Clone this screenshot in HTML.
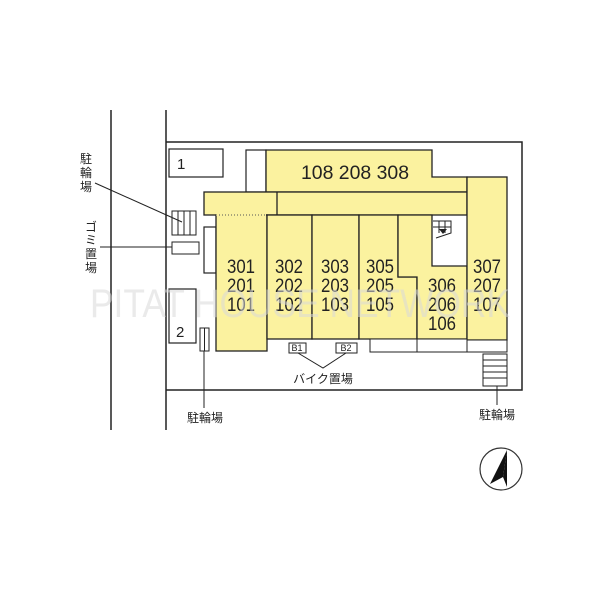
<!DOCTYPE html>
<html><head><meta charset="utf-8"><style>html,body{margin:0;padding:0;background:#fff}svg{display:block}</style></head>
<body>
<svg width="600" height="600" viewBox="0 0 600 600" xmlns="http://www.w3.org/2000/svg" font-family="Liberation Sans, Noto Sans CJK JP, sans-serif">
<g stroke="#222" stroke-width="1.5" fill="none">
<line x1="111" y1="110" x2="111" y2="430"/>
<line x1="166" y1="110" x2="166" y2="430"/>
<polyline points="166,142 522,142 522,390 166,390"/>
</g>
<g stroke="#222" stroke-width="1.2" fill="#fff">
<rect x="169" y="149" width="54" height="28"/>
<rect x="169" y="289" width="27" height="54"/>
<rect x="246" y="150" width="20" height="42"/>
<rect x="204" y="227" width="12" height="46"/>
</g>
<g stroke="#222" stroke-width="1.3" fill="#fbf29f">
<polygon points="266,150 432,150 432,177 467,177 467,192 266,192"/>
<rect x="204" y="192" width="263" height="23"/>
<line x1="277" y1="192" x2="277" y2="215"/>
<rect x="216" y="215" width="51" height="136"/>
<rect x="267" y="215" width="45" height="124"/>
<rect x="312" y="215" width="47" height="124"/>
<polygon points="359,215 398,215 398,277 417,277 417,339 359,339"/>
<polygon points="398,215 432,215 432,266 467,266 467,339 417,339 417,277 398,277"/>
<rect x="467" y="177" width="40" height="163"/>
</g>
<line x1="216" y1="215" x2="266" y2="215" stroke="#fbf29f" stroke-width="2"/>
<line x1="216" y1="215" x2="266" y2="215" stroke="#555" stroke-width="1" stroke-dasharray="1,2"/>
<g stroke="#222" stroke-width="1" fill="#fff">
<rect x="370" y="339" width="47" height="13"/>
<rect x="417" y="339" width="50" height="13"/>
<rect x="467" y="340" width="40" height="12"/>
<rect x="289" y="343" width="17" height="10"/>
<rect x="336" y="343" width="21" height="10"/>
</g>
<g stroke="#222" stroke-width="1" fill="none">
<path d="M433,221 H451 V233 L436,238 M433,227 H451 M439,221 V233 M445,221 V233"/>
</g>
<polygon points="439,229 447,229 443,234" fill="#222"/>
<g stroke="#222" stroke-width="1" fill="#fff">
<rect x="483" y="354" width="24" height="32"/>
<path d="M483,360H507M483,366H507M483,372H507M483,378H507" fill="none"/>
<rect x="172" y="211" width="24" height="24"/>
<path d="M178,211V235M184,211V235M190,211V235" fill="none"/>
<rect x="172" y="242" width="27" height="12"/>
<rect x="200" y="328" width="9" height="23"/>
<path d="M204.5,328V351" fill="none"/>
</g>
<g stroke="#222" stroke-width="1" fill="none">
<line x1="95" y1="183" x2="182" y2="222"/>
<line x1="100" y1="247" x2="172" y2="247"/>
<line x1="204" y1="351" x2="204" y2="408"/>
<line x1="497" y1="386" x2="497" y2="405"/>
<polyline points="298,353 323,368 346,353"/>
</g>
<g font-size="19" fill="#222" text-anchor="middle" lengthAdjust="spacingAndGlyphs">
<text x="355" y="179" textLength="108" lengthAdjust="spacingAndGlyphs">108  208  308</text>
<text x="241" y="273" textLength="28" lengthAdjust="spacingAndGlyphs">301</text><text x="241" y="292" textLength="28" lengthAdjust="spacingAndGlyphs">201</text><text x="241" y="311" textLength="28" lengthAdjust="spacingAndGlyphs">101</text>
<text x="289" y="273" textLength="28" lengthAdjust="spacingAndGlyphs">302</text><text x="289" y="292" textLength="28" lengthAdjust="spacingAndGlyphs">202</text><text x="289" y="311" textLength="28" lengthAdjust="spacingAndGlyphs">102</text>
<text x="335" y="273" textLength="28" lengthAdjust="spacingAndGlyphs">303</text><text x="335" y="292" textLength="28" lengthAdjust="spacingAndGlyphs">203</text><text x="335" y="311" textLength="28" lengthAdjust="spacingAndGlyphs">103</text>
<text x="380" y="273" textLength="28" lengthAdjust="spacingAndGlyphs">305</text><text x="380" y="292" textLength="28" lengthAdjust="spacingAndGlyphs">205</text><text x="380" y="311" textLength="28" lengthAdjust="spacingAndGlyphs">105</text>
<text x="442" y="292" textLength="28" lengthAdjust="spacingAndGlyphs">306</text><text x="442" y="311" textLength="28" lengthAdjust="spacingAndGlyphs">206</text><text x="442" y="330" textLength="28" lengthAdjust="spacingAndGlyphs">106</text>
<text x="487" y="273" textLength="28" lengthAdjust="spacingAndGlyphs">307</text><text x="487" y="292" textLength="28" lengthAdjust="spacingAndGlyphs">207</text><text x="487" y="311" textLength="28" lengthAdjust="spacingAndGlyphs">107</text>
</g>
<text x="300" y="317" font-size="40" fill="#d8d8d8" fill-opacity="0.55" text-anchor="middle" textLength="420" lengthAdjust="spacingAndGlyphs">PITAT HOUSE NETWORK</text>
<g font-size="15" fill="#222">
<text x="177" y="169">1</text><text x="176" y="337">2</text>
</g>
<g font-size="9" fill="#222" text-anchor="middle">
<text x="297" y="351">B1</text><text x="346" y="351">B2</text>
</g>
<g font-size="12" fill="#222" text-anchor="middle">
<text x="323" y="383">バイク置場</text>
<text x="205" y="422">駐輪場</text>
<text x="497" y="419">駐輪場</text>
<text x="86" y="163">駐</text><text x="86" y="177">輪</text><text x="86" y="191">場</text>
<text x="91" y="231">ゴ</text><text x="91" y="244">ミ</text><text x="91" y="258">置</text><text x="91" y="272">場</text>
</g>
<circle cx="501" cy="469" r="21" fill="none" stroke="#333" stroke-width="1.2"/>
<polygon points="507,450 490,484 503,477" fill="#111"/>
<polygon points="507,450 503,477 507,487" fill="#111"/>
</svg>
</body></html>
